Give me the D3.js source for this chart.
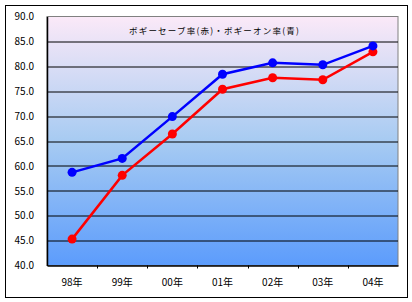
<!DOCTYPE html>
<html>
<head>
<meta charset="utf-8">
<script src="https://cdn.jsdelivr.net/npm/d3@7"></script>
<style>
  body { margin: 0; background: #fff; }
  svg text { font-family: "Noto Sans CJK JP", "DejaVu Sans", sans-serif; }
</style>
</head>
<body>
<div id="chart"></div>
<script>
var years = ["98年", "99年", "00年", "01年", "02年", "03年", "04年"];
var bogeySave = [45.3, 58.1, 66.4, 75.4, 77.7, 77.3, 82.9];   // red
var bogeyOn = [58.7, 61.5, 69.9, 78.4, 80.7, 80.3, 84.1];     // blue
var yTicks = [40, 45, 50, 55, 60, 65, 70, 75, 80, 85, 90];
var title = "ボギーセーブ率(赤)・ボギーオン率(青)";

var W = 412, H = 302;
var margin = { top: 16.5, right: 14, bottom: 36.5, left: 47 };
var width = W - margin.left - margin.right,
    height = H - margin.top - margin.bottom;

var svg = d3.select("#chart").append("svg")
  .attr("width", W)
  .attr("height", H);

// outer frame
svg.append("rect")
  .attr("x", 5.5).attr("y", 5.5)
  .attr("width", 402).attr("height", 292)
  .attr("fill", "#fff")
  .attr("stroke", "#000")
  .attr("stroke-width", 1);

var defs = svg.append("defs");
var grad = defs.append("linearGradient")
  .attr("id", "bg")
  .attr("x1", 0).attr("y1", 0).attr("x2", 0).attr("y2", 1);
grad.append("stop").attr("offset", "0%").attr("stop-color", "#fbe9f8");
grad.append("stop").attr("offset", "50%").attr("stop-color", "#a7cbf2");
grad.append("stop").attr("offset", "100%").attr("stop-color", "#5c9cfc");

var g = svg.append("g")
  .attr("transform", "translate(" + margin.left + "," + margin.top + ")");

var x = d3.scaleBand().domain(years).range([0, width]);
var y = d3.scaleLinear().domain([40, 90]).range([height, 0]);

g.append("rect")
  .attr("width", width).attr("height", height)
  .attr("fill", "url(#bg)")
  .attr("stroke", "#808080")
  .attr("stroke-width", 1);

// gridlines
g.selectAll(".grid")
  .data(yTicks.slice(1, -1))
  .enter().append("line")
  .attr("class", "grid")
  .attr("x1", 0).attr("x2", width)
  .attr("y1", function(d) { return Math.round(y(d)) + 0.5; })
  .attr("y2", function(d) { return Math.round(y(d)) + 0.5; })
  .attr("stroke", "#000")
  .attr("stroke-width", 1);

// y axis
var yAxis = g.append("g")
  .call(d3.axisLeft(y).tickValues(yTicks).tickSize(0).tickPadding(13)
    .tickFormat(d3.format(".1f")));
yAxis.select(".domain").attr("stroke", "#000").attr("stroke-width", 1.5);
yAxis.selectAll("text").attr("font-size", 10).attr("fill", "#000");

// x axis
var xAxis = g.append("g")
  .attr("transform", "translate(0," + height + ")")
  .call(d3.axisBottom(x).tickSize(0).tickPadding(13));
xAxis.select(".domain").attr("stroke", "#000").attr("stroke-width", 1.5);
xAxis.selectAll("text").attr("font-size", 10).attr("fill", "#000");
xAxis.selectAll(".sep")
  .data(years.slice(1))
  .enter().append("line")
  .attr("class", "sep")
  .attr("x1", function(d) { return Math.round(x(d)) + 0.5; })
  .attr("x2", function(d) { return Math.round(x(d)) + 0.5; })
  .attr("y1", 0).attr("y2", 3)
  .attr("stroke", "#000");

// title
g.append("text")
  .attr("x", width / 2 - 8)
  .attr("y", 17)
  .attr("text-anchor", "middle")
  .attr("font-size", 8.5)
  .attr("letter-spacing", 1.2)
  .attr("fill", "#000")
  .text(title);

var line = d3.line()
  .x(function(d, i) { return x(years[i]) + x.bandwidth() / 2; })
  .y(function(d) { return y(d); });

function drawSeries(values, color) {
  g.append("path")
    .datum(values)
    .attr("fill", "none")
    .attr("stroke", color)
    .attr("stroke-width", 2.5)
    .attr("d", line);
  g.selectAll(null)
    .data(values)
    .enter().append("circle")
    .attr("cx", function(d, i) { return x(years[i]) + x.bandwidth() / 2; })
    .attr("cy", function(d) { return y(d); })
    .attr("r", 4.5)
    .attr("fill", color);
}

drawSeries(bogeySave, "#ff0000");
drawSeries(bogeyOn, "#0000ff");
</script>
</body>
</html>
